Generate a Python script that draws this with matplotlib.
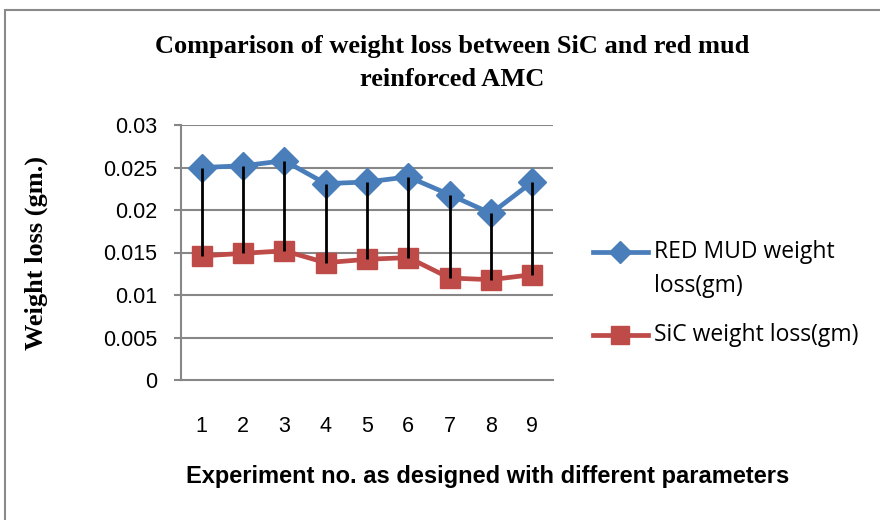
import matplotlib
matplotlib.use("Agg")
import matplotlib.pyplot as plt
from matplotlib.patches import Rectangle
from matplotlib.lines import Line2D

experiments = [1, 2, 3, 4, 5, 6, 7, 8, 9]
red_mud_loss = [0.0250, 0.0252, 0.0258, 0.0231, 0.0233, 0.0239, 0.0218, 0.0196, 0.0233]
sic_loss = [0.0146, 0.0149, 0.0152, 0.0138, 0.0142, 0.0144, 0.0120, 0.0118, 0.0124]
y_ticks = [0, 0.005, 0.01, 0.015, 0.02, 0.025, 0.03]
y_labels = ["0", "0.005", "0.01", "0.015", "0.02", "0.025", "0.03"]

blue = "#4A7EBB"
red = "#BE4B48"
grid = "#878787"
sans = ["Liberation Sans", "DejaVu Sans"]

fig = plt.figure(figsize=(8.8, 5.2), dpi=100)
ax = fig.add_axes([181 / 880, 1 - 380 / 520, 372 / 880, 255 / 520])

# chart border (runs off the right and bottom edge)
fig.patches.append(Rectangle((5 / 880, -0.1), 1.2, 1.1 - 10 / 520,
                             transform=fig.transFigure, fill=False,
                             edgecolor="#8a8a8a", linewidth=1.5))

ax.plot(experiments, red_mud_loss, color=blue, lw=3.4, marker="D", ms=14,
        zorder=3)
ax.plot(experiments, sic_loss, color=red, lw=3.4, marker="s", ms=14,
        zorder=3)
# high-low lines
ax.vlines(experiments, sic_loss, red_mud_loss, color="black", lw=2, zorder=4)

ax.set_xlim(0.5, 9.5)
ax.set_ylim(0, 0.03)
ax.set_yticks(y_ticks)
ax.set_yticklabels(y_labels, family=sans, fontsize=15.5)
ax.set_xticks(experiments)
ax.set_xticklabels([str(e) for e in experiments], family=sans, fontsize=15.5)
ax.tick_params(axis="x", length=0, pad=26)
ax.tick_params(axis="y", length=5, width=1.5, color=grid, pad=12)
for y in y_ticks[1:]:
    ax.axhline(y, color=grid, lw=1.5, zorder=1)
for s in ["top", "right"]:
    ax.spines[s].set_visible(False)
for s in ["left", "bottom"]:
    ax.spines[s].set_color(grid)
    ax.spines[s].set_linewidth(1.5)

fig.text(452 / 880, 1 - 47 / 520, "Comparison of weight loss between SiC and red mud",
         family="Liberation Serif", weight="bold", fontsize=19, ha="center", va="center")
fig.text(452 / 880, 1 - 80 / 520, "reinforced AMC",
         family="Liberation Serif", weight="bold", fontsize=19, ha="center", va="center")
fig.text(36 / 880, 1 - 253 / 520, "Weight loss (gm.)", family="Liberation Serif",
         weight="bold", fontsize=19, rotation=90, ha="center", va="center")
fig.text(488 / 880, 1 - 476 / 520, "Experiment no. as designed with different parameters",
         family=sans, weight="bold", fontsize=17, ha="center", va="center")

# legend, handle aligned with the first text line as in the original
legend_items = [
    (blue, "D", 11, 252, ["RED MUD weight", "loss(gm)"]),
    (red, "s", 12.5, 335, ["SiC weight loss(gm)"]),
]
for color, marker, ms, ypix, lines in legend_items:
    y = 1 - ypix / 520
    fig.add_artist(Line2D([593 / 880, 648 / 880], [y, y], color=color, lw=3.4,
                          transform=fig.transFigure))
    fig.add_artist(Line2D([620 / 880], [y], color=color, marker=marker, ms=ms,
                          transform=fig.transFigure))
    for i, line in enumerate(lines):
        fig.text(654 / 880, y - i * 34 / 520, line, family="Open Sans",
                 fontsize=16.5, ha="left", va="center")

fig.savefig("out.png", dpi=100)
